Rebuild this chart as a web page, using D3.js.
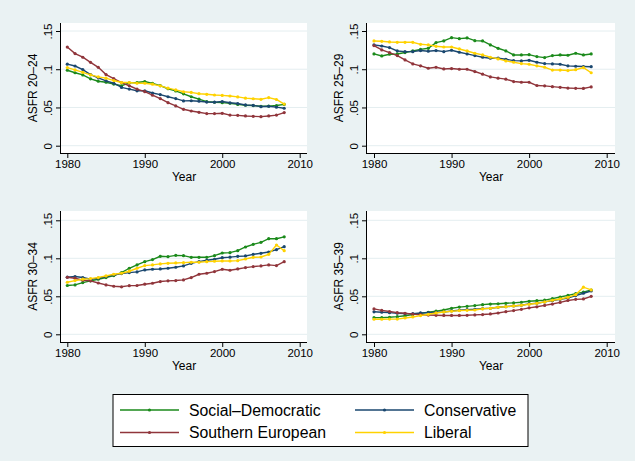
<!DOCTYPE html>
<html><head><meta charset="utf-8">
<script src="https://cdn.jsdelivr.net/npm/d3@7"></script>
<style>body{margin:0;background:#eaf2f3}svg{display:block}text{font-family:"Liberation Sans",Arial,sans-serif;fill:#000}</style>
</head><body>
<script>
const years = d3.range(1980, 2009);
const seriesNames = ["Social\u2013Democratic", "Conservative", "Southern European", "Liberal"];
const seriesColors = ["#1b8a1b", "#1a476f", "#90353b", "#ffd200"];
const yTicks = [0, 0.05, 0.1, 0.15];
const yTickLabels = ["0", ".05", ".1", ".15"];
const xTicks = [1980, 1990, 2000, 2010];
const panelTitles = ["ASFR 20\u201324", "ASFR 25\u201329", "ASFR 30\u201334", "ASFR 35\u201339"];

// ASFR 20-24
const socdem2024 = [.0987,.0954,.0926,.0874,.0843,.083,.0806,.0784,.0822,.0826,.0839,.0815,.0785,.0745,.0716,.0678,.064,.061,.0577,.0568,.0563,.0555,.054,.0529,.0525,.0516,.0518,.0525,.054];
const cons2024 = [.1066,.1042,.0995,.093,.0886,.0848,.0817,.0762,.074,.0718,.0718,.0689,.0668,.064,.0616,.0586,.0588,.0581,.0571,.0569,.0577,.0561,.0551,.0533,.0527,.0511,.0516,.0504,.049];
const south2024 = [.129,.1205,.1157,.109,.1025,.093,.0877,.0825,.0784,.074,.0707,.066,.0616,.0563,.052,.0476,.0454,.0437,.042,.042,.0424,.040,.0397,.0389,.0384,.038,.0389,.040,.0433];
const lib2024 = [.1022,.0991,.096,.0926,.09,.0883,.0852,.0826,.0826,.0817,.0817,.0804,.0783,.0752,.073,.0705,.0697,.068,.0672,.0663,.0658,.065,.0638,.0622,.0614,.0607,.0629,.0604,.0544];
// ASFR 25-29
const socdem2529 = [.12,.1174,.1196,.12,.1218,.1239,.126,.1274,.1348,.137,.1413,.14,.1409,.1374,.137,.1318,.1274,.1239,.1187,.1187,.1191,.1165,.1152,.1178,.1187,.1183,.1209,.1187,.12];
const cons2529 = [.1318,.1304,.1283,.1239,.123,.123,.1244,.1235,.1244,.123,.1248,.1222,.12,.1178,.1157,.1144,.1144,.113,.1113,.1109,.1117,.1091,.1074,.107,.1065,.1044,.1039,.1035,.1033];
const south2529 = [.131,.1252,.1218,.1178,.1122,.107,.1044,.1013,.1026,.1004,.1009,.10,.10,.097,.0935,.09,.0883,.087,.0839,.083,.083,.0787,.0783,.0772,.0763,.0754,.075,.0749,.0769];
const lib2529 = [.137,.1365,.1357,.1352,.1352,.1352,.1326,.1318,.13,.1291,.1291,.1265,.1239,.1209,.1187,.1157,.1135,.1109,.1091,.1074,.1065,.1044,.1026,.0989,.0989,.0983,.0994,.1022,.0954];
// ASFR 30-34
const socdem3034 = [.0642,.065,.068,.0703,.0725,.0747,.0773,.0812,.0869,.0913,.0956,.0983,.1026,.1022,.1039,.1035,.1013,.1013,.1013,.1035,.107,.1074,.11,.1149,.1184,.121,.1258,.1258,.1282];
const cons3034 = [.0751,.076,.0747,.0725,.0738,.076,.0781,.0799,.0812,.0821,.0847,.0856,.086,.0869,.0882,.09,.0934,.0956,.0974,.0987,.1008,.1015,.1026,.1031,.1052,.1066,.1083,.1114,.1153];
const south3034 = [.075,.0738,.0712,.0703,.0675,.065,.0632,.0625,.064,.0642,.0659,.0672,.0694,.0703,.0707,.0716,.0747,.079,.0803,.0825,.0856,.0843,.086,.0878,.0891,.09,.0913,.0904,.0956];
const lib3034 = [.0685,.0707,.0725,.0733,.0747,.0768,.079,.0803,.083,.0869,.0904,.0913,.0926,.0934,.0939,.0943,.0948,.0948,.0956,.0961,.0965,.0965,.0969,.0991,.1013,.1017,.1052,.1175,.11];
// ASFR 35-39
const socdem3539 = [.0219,.022,.0224,.0232,.0244,.026,.0275,.029,.0305,.032,.0342,.0358,.0368,.0378,.039,.0398,.0402,.0408,.0414,.0422,.0435,.0442,.045,.047,.049,.0512,.0535,.0555,.0583];
const cons3539 = [.0296,.029,.0285,.0277,.0272,.0272,.0281,.0285,.029,.0294,.0307,.0316,.0325,.0329,.0338,.0342,.0356,.0364,.0373,.0382,.040,.0408,.0426,.0443,.046,.0478,.0509,.054,.057];
const south3539 = [.0334,.0315,.030,.0285,.0277,.0265,.0258,.0253,.025,.0248,.0248,.0248,.025,.0255,.026,.0268,.028,.0298,.0312,.0328,.0348,.0362,.038,.0398,.042,.0445,.046,.0465,.05];
const lib3539 = [.0198,.0198,.02,.02,.0215,.0228,.0246,.0263,.0281,.0294,.0303,.0312,.0316,.032,.0334,.0342,.0356,.0364,.0373,.0382,.0395,.0408,.0426,.0448,.0465,.0487,.0522,.062,.0584];

const panelData = [
  [socdem2024, cons2024, south2024, lib2024],
  [socdem2529, cons2529, south2529, lib2529],
  [socdem3034, cons3034, south3034, lib3034],
  [socdem3539, cons3539, south3539, lib3539]
];

const W = 635, H = 461;
const svg = d3.select("body").append("svg").attr("width", W).attr("height", H);
svg.append("rect").attr("width", W).attr("height", H).attr("fill", "#eaf2f3");

// layout: plot region rect and scale anchor points
const layouts = [
  {rx0: 61, rx1: 307, ry0: 23, ry1: 153, x0: 67.3, x1: 299.7, y0: 145.7, y1: 31},
  {rx0: 367, rx1: 615, ry0: 23, ry1: 153, x0: 374, x1: 606.7, y0: 145.7, y1: 31},
  {rx0: 61, rx1: 307, ry0: 211, ry1: 342, x0: 67.3, x1: 299.7, y0: 334.3, y1: 220.3},
  {rx0: 367, rx1: 615, ry0: 211, ry1: 342, x0: 374, x1: 606.7, y0: 334.3, y1: 220.3}
];

layouts.forEach((L, pi) => {
  const g = svg.append("g");
  const x = d3.scaleLinear().domain([1980, 2010]).range([L.x0, L.x1]);
  const y = d3.scaleLinear().domain([0, 0.15]).range([L.y0, L.y1]);
  g.append("rect").attr("x", L.rx0).attr("y", L.ry0).attr("width", L.rx1 - L.rx0).attr("height", L.ry1 - L.ry0).attr("fill", "#fff");
  // gridlines
  g.selectAll(".grid").data(yTicks).enter().append("line")
    .attr("x1", L.rx0).attr("x2", L.rx1)
    .attr("y1", d => y(d)).attr("y2", d => y(d))
    .attr("stroke", "#e4eef0").attr("stroke-width", 1);
  // y axis
  const yAxis = d3.axisLeft(y).tickValues(yTicks).tickFormat((d, i) => yTickLabels[i]).tickSize(5).tickSizeOuter(0);
  const ya = g.append("g").attr("transform", `translate(${L.rx0},0)`).call(yAxis);
  ya.select(".domain").remove();
  ya.selectAll(".tick line").attr("stroke", "#000");
  ya.selectAll(".tick text").attr("transform", "rotate(-90)").attr("x", 0).attr("y", -9.5)
    .attr("dy", "0").attr("text-anchor", "middle").style("font-size", "11.5px")
    .attr("font-family", "Liberation Sans, Arial, sans-serif");
  g.append("line").attr("x1", L.rx0 - 0.5).attr("x2", L.rx0 - 0.5).attr("y1", L.ry0).attr("y2", L.ry1).attr("stroke", "#000");
  // x axis
  const xAxis = d3.axisBottom(x).tickValues(xTicks).tickFormat(d3.format("d")).tickSize(5).tickSizeOuter(0);
  const xa = g.append("g").attr("transform", `translate(0,${L.ry1})`).call(xAxis);
  xa.select(".domain").remove();
  xa.selectAll(".tick line").attr("stroke", "#000");
  xa.selectAll(".tick text").attr("y", 7).style("font-size", "11.5px").attr("font-family", "Liberation Sans, Arial, sans-serif");
  g.append("line").attr("x1", L.rx0 - 1).attr("x2", L.rx1).attr("y1", L.ry1 + 0.5).attr("y2", L.ry1 + 0.5).attr("stroke", "#000");
  // titles
  g.append("text").attr("x", (L.rx0 + L.rx1) / 2).attr("y", L.ry1 + 28).attr("text-anchor", "middle")
    .style("font-size", "12px").text("Year");
  g.append("text").attr("transform", `translate(${L.rx0 - 24.5},${(L.ry0 + L.ry1) / 2}) rotate(-90)`)
    .attr("text-anchor", "middle").style("font-size", "12px").text(panelTitles[pi]);
  // series
  const line = d3.line().x((d, i) => x(years[i])).y(d => y(d));
  panelData[pi].forEach((vals, si) => {
    g.append("path").datum(vals).attr("d", line).attr("fill", "none")
      .attr("stroke", seriesColors[si]).attr("stroke-width", 1.4);
    g.selectAll(null).data(vals).enter().append("circle")
      .attr("cx", (d, i) => x(years[i])).attr("cy", d => y(d)).attr("r", 1.6)
      .attr("fill", seriesColors[si]);
  });
});

// legend
const lg = svg.append("g");
lg.append("rect").attr("x", 113).attr("y", 394.5).attr("width", 415).attr("height", 52)
  .attr("fill", "#fff").attr("stroke", "#000").attr("stroke-width", 1);
const legPos = [[120, 410], [355, 410], [120, 432.5], [355, 432.5]];
const legOrder = [0, 1, 2, 3];
legOrder.forEach((si, k) => {
  const [lx, ly] = legPos[k];
  lg.append("line").attr("x1", lx).attr("x2", lx + 59).attr("y1", ly).attr("y2", ly)
    .attr("stroke", seriesColors[si]).attr("stroke-width", 1.4);
  lg.append("circle").attr("cx", lx + 29.5).attr("cy", ly).attr("r", 1.6).attr("fill", seriesColors[si]);
  lg.append("text").attr("x", lx + 69).attr("y", ly).attr("dy", "0.36em")
    .style("font-size", "15.8px").text(seriesNames[si]);
});
</script>
</body></html>
